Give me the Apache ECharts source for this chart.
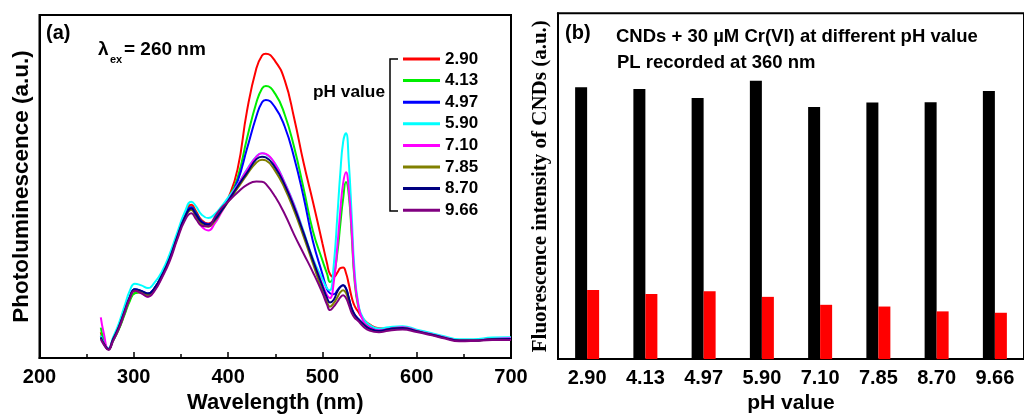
<!DOCTYPE html>
<html>
<head>
<meta charset="utf-8">
<script src="https://cdn.jsdelivr.net/npm/echarts@6/dist/echarts.min.js"></script>
<style>
html,body{margin:0;padding:0;background:#fff;}
#c{width:1024px;height:419px;}
</style>
</head>
<body>
<div id="c"></div>
<script>
// ---------- Data ----------
const wavelengths = [265, 268, 273, 278, 284, 290, 296, 301, 308, 315, 322, 330, 338, 346, 354, 361, 366, 372, 379, 386, 393, 400, 410, 420, 430, 436, 440, 450, 460, 470, 480, 490, 500, 505, 508, 512, 516, 519, 522, 525, 528, 531, 534, 538, 543, 550, 560, 570, 585, 600, 615, 630, 645, 660, 680, 700];

const phValues = ['2.90', '4.13', '4.97', '5.90', '7.10', '7.85', '8.70', '9.66'];
const lineColors = ['#ff0000', '#00ee00', '#0000ff', '#00ffff', '#ff00ff', '#808000', '#000080', '#800080'];

const pl_290 = [7.5, 5.0, 2.6, 5.3, 8.5, 12.8, 17.2, 19.0, 19.2, 18.6, 20.3, 24.3, 29.2, 35.6, 41.6, 44.7, 42.8, 40.2, 39.2, 40.6, 43.0, 46.5, 55.0, 72.0, 84.5, 88.2, 88.7, 86.5, 81.0, 70.0, 57.0, 45.5, 33.5, 27.5, 24.5, 23.6, 25.0, 26.2, 26.4, 24.8, 21.5, 17.8, 15.3, 13.5, 11.5, 9.8, 8.7, 8.6, 9.0, 8.0, 7.0, 6.0, 5.2, 5.2, 5.6, 5.8];
const pl_413 = [8.9, 5.5, 2.6, 5.0, 8.3, 12.5, 16.8, 18.9, 19.2, 18.6, 20.3, 24.2, 29.0, 35.3, 41.3, 44.0, 42.3, 39.8, 38.7, 40.3, 43.0, 46.2, 52.5, 64.0, 74.5, 78.6, 79.3, 77.0, 71.0, 61.5, 49.5, 37.0, 28.5, 24.5, 22.2, 24.0, 31.0, 39.0, 46.5, 51.3, 47.5, 36.0, 23.0, 15.0, 11.5, 9.5, 8.4, 8.6, 9.0, 8.0, 7.0, 6.0, 5.2, 5.2, 5.6, 5.8];
const pl_497 = [6.5, 4.5, 2.6, 5.5, 9.0, 13.5, 18.0, 20.1, 19.6, 18.8, 20.4, 24.2, 29.0, 35.3, 41.2, 44.0, 42.2, 39.8, 39.0, 40.5, 43.0, 46.0, 51.5, 61.0, 70.5, 74.6, 75.2, 73.0, 67.5, 58.5, 47.0, 34.0, 24.5, 20.0, 18.9, 18.6, 19.8, 20.8, 21.2, 20.3, 17.5, 14.5, 12.8, 11.5, 10.2, 9.0, 8.2, 8.6, 9.0, 8.0, 7.0, 6.0, 5.2, 5.2, 5.6, 5.8];
const pl_590 = [6.5, 4.6, 2.9, 6.0, 10.0, 15.0, 19.8, 21.7, 21.2, 20.4, 22.0, 25.3, 30.3, 36.5, 42.5, 45.6, 44.2, 41.8, 40.8, 42.0, 44.2, 46.8, 50.5, 55.0, 58.8, 59.7, 59.4, 56.6, 51.2, 44.8, 37.0, 29.0, 23.0, 20.3, 19.8, 27.0, 42.0, 54.0, 63.0, 65.5, 57.0, 42.0, 26.0, 16.0, 11.8, 9.7, 8.6, 9.0, 9.3, 8.3, 7.3, 6.3, 5.5, 5.5, 6.0, 6.1];
const pl_710 = [11.9, 7.5, 2.6, 5.3, 8.8, 13.3, 17.6, 19.6, 19.0, 17.9, 19.8, 23.8, 28.8, 35.0, 40.9, 43.3, 41.2, 38.3, 37.2, 39.3, 42.5, 45.8, 50.3, 54.8, 58.7, 59.7, 59.5, 56.5, 51.0, 44.5, 36.5, 28.5, 21.5, 18.3, 17.5, 22.0, 33.0, 43.0, 51.0, 54.2, 49.0, 37.5, 24.0, 15.5, 11.0, 9.0, 8.1, 8.5, 9.0, 8.0, 7.0, 6.0, 5.2, 5.2, 5.6, 5.8];
const pl_785 = [6.0, 4.3, 2.6, 5.4, 8.9, 13.3, 17.6, 19.8, 19.3, 18.4, 20.1, 24.0, 28.8, 35.0, 40.8, 43.2, 41.4, 39.0, 38.3, 40.0, 42.8, 45.5, 49.5, 53.5, 57.0, 57.8, 57.6, 54.5, 49.5, 43.0, 35.5, 27.5, 19.5, 16.3, 15.0, 16.0, 17.8, 19.2, 19.8, 19.0, 16.5, 14.0, 12.5, 11.2, 10.0, 8.5, 7.8, 8.4, 8.8, 7.8, 6.9, 5.9, 5.1, 5.1, 5.5, 5.6];
const pl_870 = [6.0, 4.3, 2.6, 5.5, 9.0, 13.5, 18.0, 20.1, 19.6, 18.8, 20.4, 24.2, 29.0, 35.3, 41.0, 43.6, 41.8, 39.6, 38.9, 40.4, 43.0, 45.8, 50.0, 54.0, 58.0, 58.7, 58.5, 55.5, 50.5, 44.0, 36.5, 28.5, 21.0, 17.5, 16.2, 17.0, 19.5, 20.7, 21.2, 20.3, 17.5, 14.5, 12.8, 11.3, 10.0, 8.6, 7.9, 8.4, 8.8, 7.8, 6.9, 5.9, 5.1, 5.1, 5.5, 5.6];
const pl_966 = [5.5, 4.0, 2.4, 5.0, 8.5, 13.0, 17.6, 19.6, 18.9, 17.9, 19.6, 23.5, 28.2, 34.5, 40.0, 42.2, 40.5, 38.6, 38.4, 41.2, 43.8, 45.6, 48.3, 50.5, 51.5, 51.4, 50.8, 47.0, 42.0, 36.0, 30.5, 25.0, 19.0, 15.5, 14.0, 15.0, 16.5, 17.7, 18.3, 17.5, 15.5, 13.2, 11.8, 10.8, 9.3, 8.0, 7.5, 8.0, 8.3, 7.6, 6.7, 5.7, 4.9, 5.0, 5.3, 5.3];

const spectra = [pl_290, pl_413, pl_497, pl_590, pl_710, pl_785, pl_870, pl_966];

// Panel (b): fluorescence intensity at 360 nm
const intensityCNDs = [78.6, 78.1, 75.5, 80.5, 72.9, 74.2, 74.3, 77.5];
const intensityCNDsCr = [20.0, 18.8, 19.6, 18.0, 15.7, 15.2, 13.8, 13.4];

const xTicksA = { min: 200, max: 700, interval: 100 };

// ---------- Chart ----------
const F = '"Liberation Sans", Arial, sans-serif';
const chart = echarts.init(document.getElementById('c'), null, { renderer: 'canvas' });

const lineSeries = phValues.map((name, k) => ({
  name: name,
  type: 'line',
  xAxisIndex: 0,
  yAxisIndex: 0,
  data: wavelengths.map((w, i) => [w, spectra[k][i]]),
  showSymbol: false,
  symbol: 'none',
  smooth: 0.5,
  lineStyle: { width: 2, color: lineColors[k] },
  itemStyle: { color: lineColors[k] },
  animation: false
}));

const txt = (x, y, text, size, extra) => ({
  type: 'text', x: x, y: y, z: 100,
  style: Object.assign({ text: text, fontSize: size, fontWeight: 'bold', fontFamily: F, fill: '#000', verticalAlign: 'middle' }, extra || {})
});

const option = {
  backgroundColor: '#fff',
  animation: false,
  grid: [
    { left: 39.5, top: 15, width: 471.5, height: 349, show: true, borderColor: '#000', borderWidth: 2, containLabel: false },
    { left: 558, top: 13.3, width: 476, height: 354.4, show: true, borderColor: '#000', borderWidth: 2, containLabel: false }
  ],
  legend: {
    data: phValues,
    orient: 'vertical',
    left: 403,
    top: 48.2,
    padding: 0,
    itemWidth: 37,
    itemHeight: 3,
    itemGap: 0,
    icon: 'rect',
    selectedMode: false,
    textStyle: { fontSize: 17, fontWeight: 'bold', color: '#000', fontFamily: F, lineHeight: 21.6 }
  },
  xAxis: [
    {
      type: 'value', gridIndex: 0,
      min: xTicksA.min, max: xTicksA.max, interval: xTicksA.interval,
      name: 'Wavelength (nm)', nameLocation: 'middle', nameGap: 30,
      nameTextStyle: { fontSize: 22, fontWeight: 'bold', color: '#000', fontFamily: F },
      axisLine: { show: true, lineStyle: { color: '#000', width: 2 } },
      axisTick: { show: true, inside: true, length: 6, lineStyle: { color: '#000', width: 1.5 } },
      minorTick: { show: true, splitNumber: 2, length: 4, lineStyle: { color: '#000', width: 1.5 } },
      axisLabel: { fontSize: 20, fontWeight: 'bold', color: '#000', fontFamily: F, margin: 9, showMinLabel: true, showMaxLabel: true },
      splitLine: { show: false }
    },
    {
      type: 'category', gridIndex: 1,
      data: phValues,
      name: 'pH value', nameLocation: 'middle', nameGap: 30,
      nameTextStyle: { fontSize: 21, fontWeight: 'bold', color: '#000', fontFamily: F },
      axisLine: { show: true, lineStyle: { color: '#000', width: 2 } },
      axisTick: { show: false },
      axisLabel: { fontSize: 20, fontWeight: 'bold', color: '#000', fontFamily: F, margin: 9, interval: 0 },
      splitLine: { show: false }
    }
  ],
  yAxis: [
    {
      type: 'value', gridIndex: 0, min: 0, max: 100,
      name: 'Photoluminescence (a.u.)', nameLocation: 'middle', nameGap: 6,
      nameTextStyle: { fontSize: 22.5, fontWeight: 'bold', color: '#000', fontFamily: F },
      axisLine: { show: true, lineStyle: { color: '#000', width: 2 } },
      axisTick: { show: false },
      axisLabel: { show: false },
      splitLine: { show: false }
    },
    {
      type: 'value', gridIndex: 1, min: 0, max: 100,
      name: 'Fluorescence intensity of CNDs (a.u.)', nameLocation: 'middle', nameGap: 7,
      nameTextStyle: { fontSize: 21, fontWeight: 'bold', color: '#000', fontFamily: '"Liberation Serif", "Times New Roman", serif' },
      axisLine: { show: true, lineStyle: { color: '#000', width: 2 } },
      axisTick: { show: false },
      axisLabel: { show: false },
      splitLine: { show: false }
    }
  ],
  series: lineSeries.concat([
    {
      name: 'CNDs', type: 'bar', xAxisIndex: 1, yAxisIndex: 1,
      data: intensityCNDs, barWidth: 12, barGap: '0%',
      itemStyle: { color: '#000000' }
    },
    {
      name: 'CNDs + Cr(VI)', type: 'bar', xAxisIndex: 1, yAxisIndex: 1,
      data: intensityCNDsCr, barWidth: 12, barGap: '0%',
      itemStyle: { color: '#ff0000' }
    }
  ]),
  graphic: [
    txt(46, 33, '(a)', 20),
    txt(98, 50, 'λ', 19),
    txt(110, 60, 'ex', 11),
    txt(124, 50, '= 260 nm', 19),
    txt(313, 92, 'pH value', 17.3),
    {
      type: 'polyline', z: 100,
      shape: { points: [[398, 59], [390, 59], [390, 211], [398, 211]] },
      style: { stroke: '#000', lineWidth: 1.5, fill: null }
    },
    txt(565, 33, '(b)', 20),
    txt(616, 37, 'CNDs + 30 µM Cr(VI) at different pH value', 18.5),
    txt(617, 63, 'PL recorded at 360 nm', 18.5)
  ]
};

chart.setOption(option);
</script>
</body>
</html>
